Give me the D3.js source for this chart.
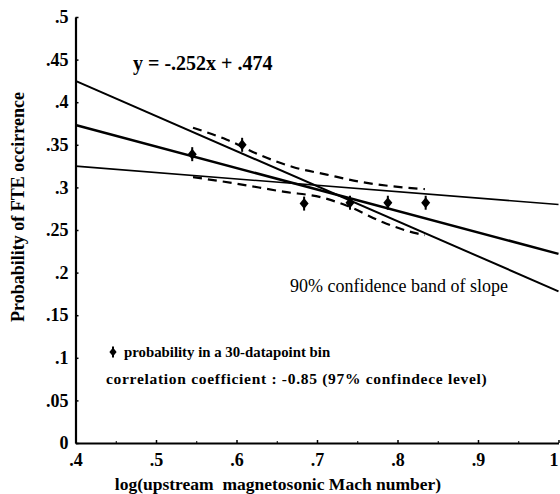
<!DOCTYPE html>
<html>
<head>
<meta charset="utf-8">
<script src="https://cdn.jsdelivr.net/npm/d3@7"></script>
<style>
  html, body { margin: 0; padding: 0; background: #fff; }
  svg { display: block; }
  text { font-family: "Liberation Serif", "Times New Roman", serif; fill: #000; }
</style>
</head>
<body>
<svg id="chart" width="560" height="494"></svg>
<script>
// Binned probability of FTE occurrence vs. log(upstream magnetosonic Mach number)
const binX = [0.545, 0.607, 0.684, 0.741, 0.788, 0.835];
const binY = [0.339, 0.350, 0.281, 0.282, 0.282, 0.282];

// Least-squares fit, y = slope * x + intercept
const fitSlope = -0.252;
const fitIntercept = 0.474;

// Lines bounding the 90% confidence band of the slope (values at x = .4 and x = 1)
const slopeBandStart = [0.425, 0.325];
const slopeBandEnd = [0.178, 0.280];

// Dashed confidence curves around the fitted line
const bandUpperX = [0.546, 0.588, 0.629, 0.670, 0.712, 0.757, 0.807, 0.834];
const bandUpperY = [0.370, 0.356, 0.338, 0.324, 0.315, 0.306, 0.300, 0.298];
const bandLowerX = [0.546, 0.596, 0.658, 0.707, 0.741, 0.782, 0.824, 0.834];
const bandLowerY = [0.312, 0.305, 0.295, 0.288, 0.277, 0.259, 0.246, 0.244];

const xTicks = [0.4, 0.5, 0.6, 0.7, 0.8, 0.9, 1.0];
const xMinorTicks = [0.45, 0.55, 0.65, 0.75, 0.85, 0.95];
const yTicks = [0, 0.05, 0.1, 0.15, 0.2, 0.25, 0.3, 0.35, 0.4, 0.45, 0.5];

const svg = d3.select("#chart");
const x = d3.scaleLinear().domain([0.4, 1.0]).range([75.5, 558.5]);
const y = d3.scaleLinear().domain([0, 0.5]).range([443, 17]);

const fmt = d => (d === 0 ? "0" : d === 1 ? "1" : d3.format(".2~f")(d).replace(/^0/, ""));

// x axis: labelled ticks every .1, small inward ticks every .05
const gx = svg.append("g").attr("transform", `translate(0,${y(0)})`)
  .call(d3.axisBottom(x).tickValues(xTicks).tickFormat(fmt)
    .tickSizeInner(-3).tickSizeOuter(0).tickPadding(10));
svg.append("g").attr("transform", `translate(0,${y(0)})`)
  .call(d3.axisBottom(x).tickValues(xMinorTicks).tickFormat("")
    .tickSizeInner(-2).tickSizeOuter(0))
  .select(".domain").remove();
gx.select(".domain").attr("stroke-width", 2.2);
gx.selectAll(".tick line").attr("stroke-width", 1.5);
gx.selectAll("text").attr("font-size", 18).attr("font-weight", "bold").attr("font-family", null)
  .attr("dx", d => (d === 1 ? -5 : 0));

// y axis
const gy = svg.append("g").attr("transform", `translate(${x(0.4)},0)`)
  .call(d3.axisLeft(y).tickValues(yTicks).tickFormat(fmt)
    .tickSizeInner(-3).tickSizeOuter(0).tickPadding(7));
gy.select(".domain").attr("stroke-width", 2.2);
gy.selectAll(".tick line").attr("stroke-width", 1.5);
gy.selectAll("text").attr("font-size", 18).attr("font-weight", "bold").attr("font-family", null);

// Slope confidence lines
slopeBandStart.forEach((v, i) => {
  svg.append("line")
    .attr("x1", x(0.4)).attr("y1", y(v))
    .attr("x2", x(1.0)).attr("y2", y(slopeBandEnd[i]))
    .attr("stroke", "#000").attr("stroke-width", i === 0 ? 2 : 1.6);
});

// Fitted line
svg.append("line")
  .attr("x1", x(0.4)).attr("y1", y(fitSlope * 0.4 + fitIntercept))
  .attr("x2", x(1.0)).attr("y2", y(fitSlope * 1.0 + fitIntercept))
  .attr("stroke", "#000").attr("stroke-width", 2.5);

// Dashed confidence curves
const curve = d3.line().x(d => x(d[0])).y(d => y(d[1])).curve(d3.curveMonotoneX);
[[bandUpperX, bandUpperY], [bandLowerX, bandLowerY]].forEach(([bx, by]) => {
  svg.append("path")
    .attr("d", curve(d3.zip(bx, by)))
    .attr("fill", "none").attr("stroke", "#000")
    .attr("stroke-width", 2.2).attr("stroke-dasharray", "9,6");
});

// Bin markers: filled diamond crossed by a short vertical stroke
function marker(g, s) {
  g.append("path")
    .attr("d", `M0,${-5.5 * s}L${4.5 * s},0L0,${5.5 * s}L${-4.5 * s},0Z`)
    .attr("fill", "#000");
  g.append("line").attr("y1", -7 * s).attr("y2", 7 * s)
    .attr("stroke", "#000").attr("stroke-width", 2);
}
svg.append("g").selectAll("g").data(d3.zip(binX, binY)).join("g")
  .attr("transform", d => `translate(${x(d[0])},${y(d[1])})`)
  .each(function () { marker(d3.select(this), 1); });

// Annotations
svg.append("text").attr("x", 133).attr("y", 70)
  .attr("font-size", 20).attr("font-weight", "bold")
  .text("y = -.252x + .474");

svg.append("text").attr("x", 290).attr("y", 292)
  .attr("font-size", 18)
  .text("90% confidence band of slope");

const lg = svg.append("g").attr("transform", "translate(113,352)");
marker(lg, 0.8);
svg.append("text").attr("x", 124).attr("y", 357)
  .attr("font-size", 14.8).attr("font-weight", "bold")
  .text("probability in a 30-datapoint bin");
svg.append("text").attr("x", 106).attr("y", 384)
  .attr("font-size", 15.5).attr("font-weight", "bold")
  .attr("letter-spacing", 0.7)
  .text("correlation coefficient : -0.85 (97% confindece level)");

// Axis titles
svg.append("text").attr("x", 278).attr("y", 490)
  .attr("text-anchor", "middle")
  .attr("font-size", 17.5).attr("font-weight", "bold")
  .attr("xml:space", "preserve").style("white-space", "pre")
  .text("log(upstream  magnetosonic Mach number)");

svg.append("text")
  .attr("transform", "translate(24,207) rotate(-90)")
  .attr("text-anchor", "middle")
  .attr("font-size", 18).attr("font-weight", "bold")
  .text("Probability of FTE occirrence");
</script>
</body>
</html>
